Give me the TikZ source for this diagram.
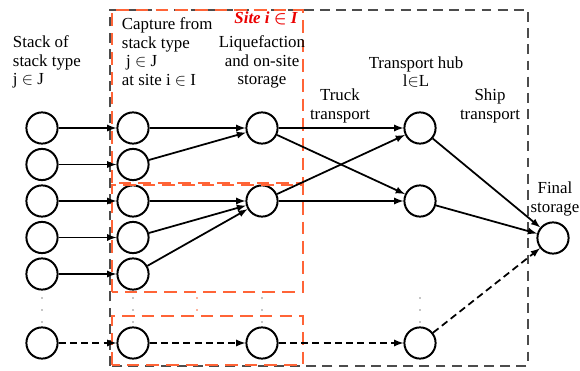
\documentclass[tikz,border=0pt]{standalone}
\usepackage{amsmath}
\usepackage{amssymb}
\usepackage{fontspec}
\setmainfont{Liberation Serif}
\usepackage{tikz}
\definecolor{siteorange}{RGB}{255,100,55}
\definecolor{sitered}{RGB}{235,0,0}

\begin{document}
\begin{tikzpicture}[>=latex,
        every node/.style={font=\fontsize{12}{13.3}\selectfont},
        circ/.style={draw,shape=circle,line width=1.4pt,minimum size=0.78cm,inner sep=0pt},
        flow/.style={line width=1.25pt,->},
        lateflow/.style={flow,dash pattern=on 5pt off 3pt},
        sitebox/.style={draw=siteorange,line width=0.75pt,dash pattern=on 9pt off 5pt},
        regionbox/.style={draw=black!70,line width=0.8pt,dash pattern=on 7pt off 4.5pt},
        gap/.style={fill=black!45}]
        \useasboundingbox (0,0) rectangle (14.5,9.275);
        % stacks
        \draw (1.05,6.075) node (S1) [circ] {};
        \draw (S1)++(down:0.9125cm) node (S2) [circ] {};
        \draw (S2)++(down:0.9125cm) node (S3) [circ] {};
        \draw (S3)++(down:0.9125cm) node (S4) [circ] {};
        \draw (S4)++(down:0.9125cm) node (S5) [circ] {};
        \draw (1.05,0.7) node (Sn) [circ] {};
        % capture
        \draw (S1)++(right:2.275cm) node (C1) [circ] {};
        \draw (S2)++(right:2.275cm) node (C2) [circ] {};
        \draw (S3)++(right:2.275cm) node (C3) [circ] {};
        \draw (S4)++(right:2.275cm) node (C4) [circ] {};
        \draw (S5)++(right:2.275cm) node (C5) [circ] {};
        \draw (Sn)++(right:2.275cm) node (Cn) [circ] {};
        % liquefaction, hubs, final storage
        \draw (C1)++(right:3.225cm) node (L1) [circ] {};
        \draw (C3)++(right:3.225cm) node (L2) [circ] {};
        \draw (Cn)++(right:3.225cm) node (Ln) [circ] {};
        \draw (L1)++(right:3.95cm) node (H1) [circ] {};
        \draw (L2)++(right:3.95cm) node (H2) [circ] {};
        \draw (Ln)++(right:3.95cm) node (Hn) [circ] {};
        \draw (13.825,3.325) node (F) [circ] {};

        % dashed frames
        \draw[regionbox] (2.75,0.125) rectangle (13.2,9.025);
        \draw[sitebox] (2.8,4.7) rectangle (7.575,9.025);
        \draw[sitebox] (2.8,1.975) rectangle (7.575,4.65);
        \draw[sitebox] (2.8,0.15) rectangle (7.575,1.375);

        % arrows
        \draw[flow] (S1) -- (C1);
        \draw[flow] (S2) -- (C2);
        \draw[flow] (S3) -- (C3);
        \draw[flow] (S4) -- (C4);
        \draw[flow] (S5) -- (C5);
        \draw[lateflow] (Sn) -- (Cn);
        \draw[flow] (C1) -- (L1);
        \draw[flow] (C2) -- (L1);
        \draw[flow] (C3) -- (L2);
        \draw[flow] (C4) -- (L2);
        \draw[flow] (C5) -- (L2);
        \draw[lateflow] (Cn) -- (Ln);
        \draw[flow] (L1) -- (H1);
        \draw[flow] (L1) -- (H2);
        \draw[flow] (L2) -- (H1);
        \draw[flow] (L2) -- (H2);
        \draw[lateflow] (Ln) -- (Hn);
        \draw[flow] (H1) -- (F);
        \draw[flow] (H2) -- (F);
        \draw[lateflow] (Hn) -- (F);

        % vertical dots
        \fill[gap] (S5)++(down:0.6cm) circle (0.6pt) ++(down:0.3cm) circle (0.6pt) ++(down:0.3cm) circle (0.6pt);
        \fill[gap] (C5)++(down:0.6cm) circle (0.6pt) ++(down:0.3cm) circle (0.6pt) ++(down:0.3cm) circle (0.6pt);
        \fill[gap] (6.55,1.825) circle (0.6pt) ++(down:0.3cm) circle (0.6pt) ++(down:0.3cm) circle (0.6pt);
        \fill[gap] (10.5,1.825) circle (0.6pt) ++(down:0.3cm) circle (0.6pt) ++(down:0.3cm) circle (0.6pt);
        \fill[siteorange] (4.925,1.825) circle (0.6pt) ++(down:0.3cm) circle (0.6pt);

        % labels
        \draw (0.2,7.725) node (A) [anchor=west,align=left] {Stack of\\stack type\\j $\in$ J};
        \draw (2.925,7.975) node (B) [anchor=west,align=left] {Capture from\\stack type\\\ j $\in$ J\\at site i $\in$ I};
        \draw (L1)++(up:1.65cm) node (D) [align=center] {Liquefaction\\and on-site\\storage};
        \draw (H1)++(up:1.4cm)++(left:0.1cm) node (E) [align=center] {Transport hub\\l$\in$L};
        \draw (8.5,6.625) node (T) [align=center] {Truck\\transport};
        \draw (12.25,6.625) node (P) [align=center] {Ship\\transport};
        \draw (F)++(up:0.975cm)++(right:0.05cm) node (G) [align=center] {Final\\storage};
        \draw (6.65,8.825) node (K) [text=sitered,font=\fontsize{12}{13.3}\selectfont\bfseries\itshape] {Site i $\boldsymbol{\in}$ I};
    \end{tikzpicture}
\end{document}
